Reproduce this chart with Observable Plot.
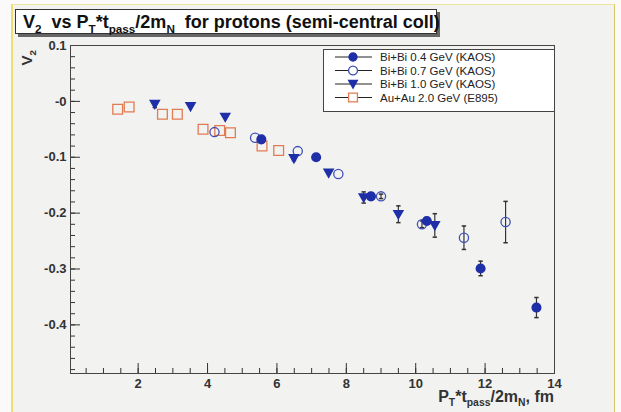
<!DOCTYPE html>
<html><head><meta charset="utf-8">
<script src="https://cdn.jsdelivr.net/npm/d3@7"></script>
<script src="https://cdn.jsdelivr.net/npm/@observablehq/plot@0.6"></script>
<style>
body{margin:0;background:#fafafa;}
#wrap{position:relative;width:621px;height:412px;overflow:hidden;}
#bg{position:absolute;left:11px;top:4px;width:601px;height:420px;background:#f2f2f1;border-left:2px solid #f2dc6e;border-top:1px solid #efe3a0;border-right:1px solid #d6c768;}
#chart{position:absolute;left:0;top:0;}
</style></head><body><div id="wrap"><div id="bg"></div><div id="chart"></div></div>
<script>
// ---- data ----
const seriesNames = ["Bi+Bi 0.4 GeV (KAOS)", "Bi+Bi 0.7 GeV (KAOS)", "Bi+Bi 1.0 GeV (KAOS)", "Au+Au 2.0 GeV (E895)"];

const bi04X   = [5.55, 7.13, 8.71, 10.32, 11.87, 13.48];
const bi04V   = [-0.068, -0.100, -0.170, -0.214, -0.299, -0.369];
const bi04Err = [0.004, 0.004, 0.005, 0.006, 0.013, 0.018];

const bi07X   = [4.20, 5.37, 6.60, 7.77, 9.00, 10.18, 11.39, 12.59];
const bi07V   = [-0.055, -0.065, -0.089, -0.130, -0.170, -0.220, -0.244, -0.216];
const bi07Err = [0, 0, 0, 0, 0.004, 0.006, 0.021, 0.037];

const bi10X   = [2.48, 3.51, 4.51, 6.49, 7.49, 8.50, 9.50, 10.55];
const bi10V   = [-0.005, -0.009, -0.028, -0.102, -0.128, -0.172, -0.202, -0.222];
const bi10Err = [0.006, 0, 0, 0.004, 0, 0.010, 0.015, 0.021];

const auX   = [1.41, 1.74, 2.70, 3.13, 3.87, 4.35, 4.66, 5.57, 6.05];
const auV   = [-0.014, -0.010, -0.023, -0.023, -0.050, -0.052, -0.056, -0.080, -0.088];
const auErr = [0, 0, 0, 0, 0, 0, 0, 0, 0];

const xTicks = [2, 4, 6, 8, 10, 12, 14];
const yTicks = [0.1, 0, -0.1, -0.2, -0.3, -0.4];

// ---- build tables ----
const rows = (xs, vs, es, s) => xs.map((x, i) => ({x, v: vs[i], e: es[i], s}));
const bi04 = rows(bi04X, bi04V, bi04Err, seriesNames[0]);
const bi07 = rows(bi07X, bi07V, bi07Err, seriesNames[1]);
const bi10 = rows(bi10X, bi10V, bi10Err, seriesNames[2]);
const au   = rows(auX, auV, auErr, seriesNames[3]);
const errRows = [...bi04, ...bi07, ...bi10, ...au].filter(d => d.e > 0);

const blue = "#1f2fa8", blueOpen = "#4050b4", orange = "#e27b52", ink = "#333";

const capSymbol = {draw(ctx, size) { const w = Math.sqrt(size / Math.PI); ctx.moveTo(-w, 0); ctx.lineTo(w, 0); }};
const triDown = {draw(ctx, size) { const r = Math.sqrt(size / Math.PI); ctx.moveTo(-r, -0.8 * r); ctx.lineTo(r, -0.8 * r); ctx.lineTo(0, 0.95 * r); ctx.closePath(); }};

const W = 621, H = 412, mL = 70, mR = 67, mT = 45, mB = 39;
const fH = H - mT - mB, fW = W - mL - mR;
const xMinor = d3.range(0.5, 14.001, 0.5);
const yMinor = d3.range(-0.48, 0.1001, 0.02);
const yFmt = d => d === 0 ? "-0" : String(Math.round(d * 10) / 10);
const font = "'Liberation Sans', Arial, sans-serif";

const plot = Plot.plot({
  width: W, height: H, marginLeft: mL, marginRight: mR, marginTop: mT, marginBottom: mB,
  style: {background: "transparent", fontFamily: font, overflow: "visible"},
  x: {domain: [0.05, 14]},
  y: {domain: [-0.487, 0.1]},
  marks: [
    Plot.ruleX(xMinor, {insetTop: fH - 5, stroke: ink}),
    Plot.ruleX(xTicks, {insetTop: fH - 10, stroke: ink}),
    Plot.ruleY(yMinor, {insetRight: fW - 5, stroke: ink}),
    Plot.ruleY(yTicks, {insetRight: fW - 10, stroke: ink}),
    Plot.axisX(xTicks, {tickSize: 0, tickPadding: 5, fontSize: 13, fontWeight: "bold", fill: ink, label: null}),
    Plot.axisY(yTicks, {tickSize: 0, tickPadding: 4, tickFormat: yFmt, fontSize: 13, fontWeight: "bold", fill: ink, label: null}),
    Plot.frame({stroke: "#444"}),
    Plot.ruleX(errRows, {x: "x", y1: d => d.v - d.e, y2: d => d.v + d.e, stroke: ink, strokeWidth: 1.2}),
    Plot.dot(errRows, {x: "x", y: d => d.v - d.e, symbol: capSymbol, r: 2.2, stroke: ink, fill: "none"}),
    Plot.dot(errRows, {x: "x", y: d => d.v + d.e, symbol: capSymbol, r: 2.2, stroke: ink, fill: "none"}),
    Plot.dot(au, {x: "x", y: "v", symbol: "square", r: 5.5, fill: "none", stroke: orange, strokeWidth: 1.3}),
    Plot.dot(bi07, {x: "x", y: "v", r: 4.6, fill: "none", stroke: blueOpen, strokeWidth: 1.3}),
    Plot.dot(bi10, {x: "x", y: "v", symbol: triDown, r: 4.5, fill: blue, stroke: blue}),
    Plot.dot(bi04, {x: "x", y: "v", r: 4.3, fill: blue, stroke: blue})
  ]
});
document.getElementById("chart").appendChild(plot);

// ---- decorations: title, axis titles, legend ----
const svg = d3.select(plot);
function rich(g, segs, attrs) {
  const t = g.append("text").attr("font-family", font).attr("font-weight", "bold").attr("text-anchor", "start").style("white-space", "pre");
  Object.entries(attrs).forEach(([k, v]) => t.attr(k, v));
  const base = +attrs["font-size"];
  let sub = false;
  segs.forEach(([s, isSub]) => {
    const ts = t.append("tspan").text(s);
    if (isSub && !sub) { ts.attr("dy", base * 0.28).attr("font-size", base * 0.65); sub = true; }
    else if (isSub) { ts.attr("font-size", base * 0.65); }
    else if (sub) { ts.attr("dy", -base * 0.28); sub = false; }
  });
  return t;
}
// title box
const tg = svg.append("g");
tg.append("rect").attr("x", 18).attr("y", 12).attr("width", 422).attr("height", 25).attr("fill", "#666");
tg.append("rect").attr("x", 15.5).attr("y", 9.5).attr("width", 421).attr("height", 24).attr("fill", "#fff").attr("stroke", "#333");
rich(tg, [["V"], ["2", 1], ["  vs P"], ["T", 1], ["*t"], ["pass", 1], ["/2m"], ["N", 1], ["  for protons (semi-central coll)"]],
  {x: 23, y: 28, "font-size": 18, fill: "#111"});
// x title
rich(svg.append("g"), [["P"], ["T", 1], ["*t"], ["pass", 1], ["/2m"], ["N", 1], [", fm"]],
  {x: 554, y: 402, "font-size": 16, fill: ink, "text-anchor": "end"});
// y title
rich(svg.append("g").attr("transform", "translate(32,50) rotate(-90)"), [["V"], ["2", 1]],
  {x: 0, y: 0, "font-size": 15, fill: ink, "text-anchor": "end"});
// legend
const lg = svg.append("g");
lg.append("rect").attr("x", 323.5).attr("y", 49.5).attr("width", 231).attr("height", 62).attr("fill", "#fff").attr("stroke", "#444");
const legendRows = [
  {name: seriesNames[0], sym: d3.symbol(d3.symbolCircle, Math.PI * 16)(), fill: blue, stroke: blue},
  {name: seriesNames[1], sym: d3.symbol(d3.symbolCircle, Math.PI * 20)(), fill: "#fff", stroke: blueOpen},
  {name: seriesNames[2], sym: d3.symbol(triDown, Math.PI * 19)(), fill: blue, stroke: blue},
  {name: seriesNames[3], sym: d3.symbol(d3.symbolSquare, Math.PI * 25)(), fill: "#fff", stroke: orange}
];
legendRows.forEach((r, i) => {
  const y = 57 + i * 13.5;
  lg.append("line").attr("x1", 335).attr("x2", 372).attr("y1", y).attr("y2", y).attr("stroke", "#222");
  lg.append("path").attr("d", r.sym).attr("transform", `translate(353,${y})`).attr("fill", r.fill).attr("stroke", r.stroke).attr("stroke-width", 1.3);
  lg.append("text").attr("x", 380).attr("y", y).attr("dy", "0.35em").attr("text-anchor", "start").attr("font-family", font).attr("font-size", 11.5).attr("fill", "#222").text(r.name);
});
</script>
</body></html>
